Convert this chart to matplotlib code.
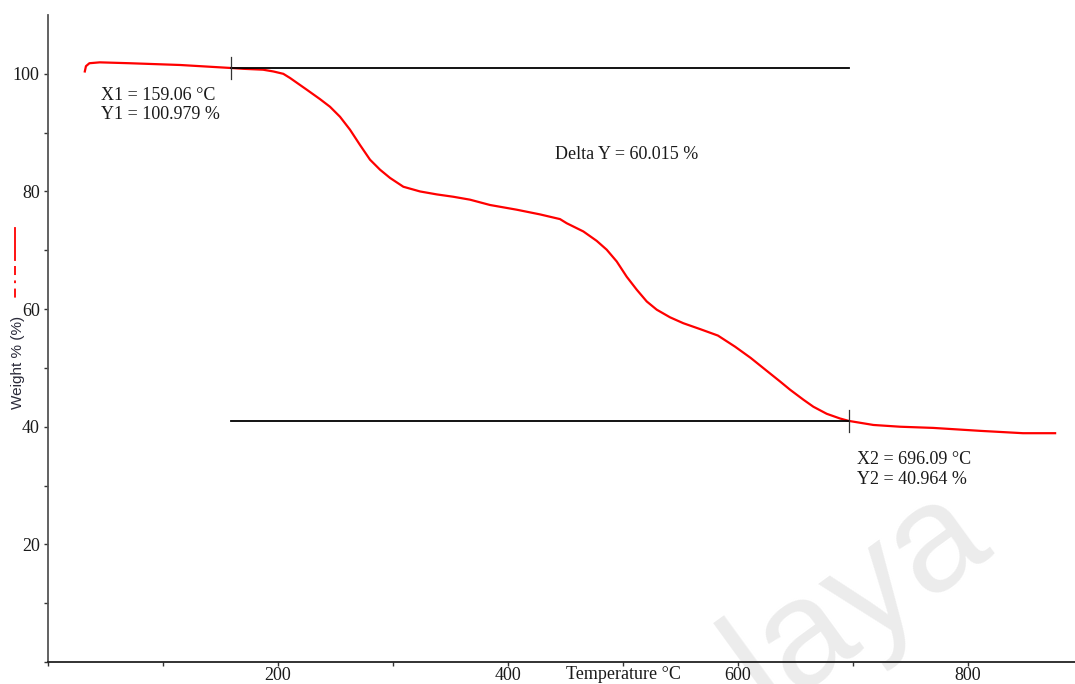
import matplotlib
matplotlib.use('Agg')
import matplotlib.pyplot as plt
from matplotlib.lines import Line2D

# TGA curve, weight % vs temperature
temperature = [32, 33, 36, 45, 71, 115, 160, 170, 187, 196, 204.6, 210.4, 225,
               236.5, 245.2, 253.9, 262.6, 271.3, 280, 288.7, 297.4, 309, 323.5,
               338, 352.4, 367, 384.3, 407.5, 427.8, 445.2, 451, 465.5, 477.1,
               485.8, 494.5, 503.2, 511.9, 520.6, 529.3, 540.9, 552.4, 567,
               582.5, 597.5, 611, 625, 636.5, 645.2, 656.8, 665.5, 677.1, 688.7,
               696, 717.7, 740.9, 769.6, 810.4, 847.8, 875.7]
weight = [100.4, 101.3, 101.8, 101.95, 101.8, 101.5, 100.98, 100.85, 100.7, 100.4,
          100.0, 99.3, 97.3, 95.7, 94.4, 92.7, 90.5, 87.9, 85.4, 83.7, 82.3, 80.8,
          80.0, 79.5, 79.1, 78.6, 77.7, 76.9, 76.1, 75.3, 74.6, 73.2, 71.6, 70.1,
          68.1, 65.5, 63.3, 61.3, 59.9, 58.6, 57.6, 56.6, 55.5, 53.6, 51.7, 49.5,
          47.7, 46.3, 44.6, 43.4, 42.2, 41.4, 41.0, 40.3, 40.0, 39.8, 39.3, 38.9,
          38.9]

# cursor readings
x1, y1 = 159.06, 100.979
x2, y2 = 696.09, 40.964
delta_y = 60.015

xticks = [0, 200, 400, 600, 800]
xticklabels = ['', '200', '400', '600', '800']
yticks = [0, 20, 40, 60, 80, 100]
yticklabels = ['', '20', '40', '60', '80', '100']

serif = 'Liberation Serif'
ink = '#1a1a1a'

fig = plt.figure(figsize=(10.75, 6.84), dpi=100)
ax = fig.add_axes([48 / 1075, 22 / 684, 1027 / 1075, 647 / 684])

# watermark, behind everything else in the axes
ax.text(858 / 1075, 1 - 598 / 684, 'laya', transform=fig.transFigure,
        rotation=36, rotation_mode='anchor', ha='center', va='center',
        fontsize=110, family='Liberation Sans', color='#ececec',
        zorder=0.5, clip_on=False)

ax.plot(temperature, weight, color='red', lw=1.6, zorder=3,
        solid_joinstyle='round')

# cursor lines and crosses
ax.plot([x1, x2], [y1, y1], color='black', lw=1.3, zorder=4)
ax.plot([x1, x2], [y2, y2], color='black', lw=1.3, zorder=4)
ax.plot([x1, x1], [y1 - 1.8, y1 + 1.8], color='#333333', lw=0.9, zorder=5)
ax.plot([x2, x2], [y2 - 1.9, y2 + 1.9], color='#333333', lw=0.9, zorder=5)

ann = dict(fontsize=13, family=serif, color=ink, va='center', ha='left')
ax.text(46, 96.3, f'X1 = {x1:.2f} °C', **ann)
ax.text(46, 93.0, f'Y1 = {y1:.3f} %', **ann)
ax.text(441, 86.2, f'Delta Y = {delta_y:.3f} %', **ann)
ax.text(703.5, 34.5, f'X2 = {x2:.2f} °C', **ann)
ax.text(703.5, 31.0, f'Y2 = {y2:.3f} %', **ann)

ax.set_xlim(0, 893)
ax.set_ylim(0, 110)
ax.set_xticks(xticks)
ax.set_xticklabels(xticklabels)
ax.set_xticks([100, 300, 500, 700], minor=True)
ax.set_yticks(yticks)
ax.set_yticklabels(yticklabels)
ax.set_yticks([10, 30, 50, 70, 90], minor=True)

for side in ['top', 'right']:
    ax.spines[side].set_visible(False)
ax.spines['left'].set_color('#555555')
ax.spines['bottom'].set_color('#222222')
ax.spines['left'].set_linewidth(1.3)
ax.spines['bottom'].set_linewidth(1.3)

ax.tick_params(which='both', direction='out', length=3, width=1, color='#333333')
ax.tick_params(axis='x', pad=0.5)
ax.tick_params(axis='y', pad=3)
for lab in ax.get_xticklabels() + ax.get_yticklabels():
    lab.set_family(serif)
    lab.set_fontsize(13)
    lab.set_color(ink)

ax.text(500, -0.006, 'Temperature °C', transform=ax.get_xaxis_transform(),
        ha='center', va='top', fontsize=13, family=serif, color=ink)

# y label with its series key above it
fig.text(18 / 1075, 1 - 362 / 684, 'Weight % (%)', rotation=90, ha='center',
         va='center', fontsize=11, family='Liberation Sans', color='#2b2b3a')
fig.add_artist(Line2D([15 / 1075, 15 / 1075], [1 - 228 / 684, 1 - 260 / 684],
                      color='red', lw=1.3))
fig.add_artist(Line2D([15 / 1075, 15 / 1075], [1 - 266 / 684, 1 - 298 / 684],
                      color='red', lw=1.3, linestyle=(0, (5, 3, 1.5, 3))))

fig.savefig('out.png', dpi=100, facecolor='white')
